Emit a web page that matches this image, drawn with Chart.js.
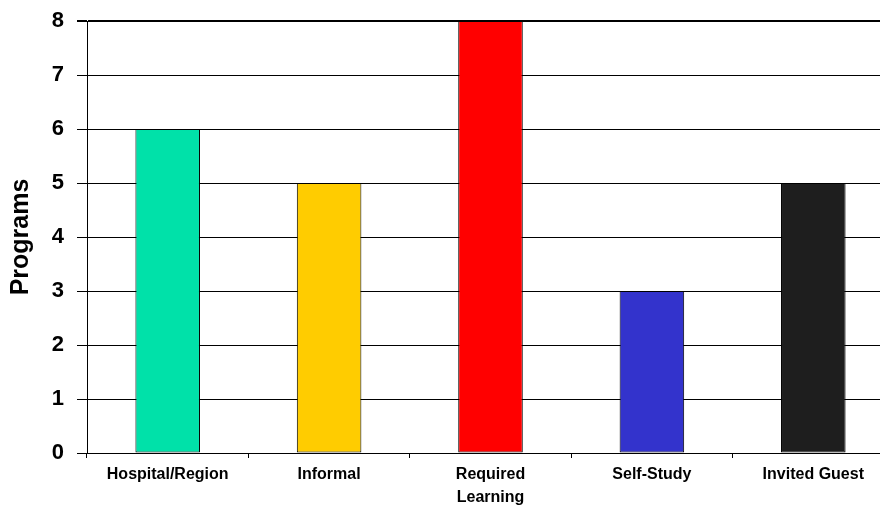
<!DOCTYPE html>
<html>
<head>
<meta charset="utf-8">
<script src="https://cdn.jsdelivr.net/npm/chart.js@4"></script>
<style>
  html, body { margin: 0; padding: 0; background: #fff; overflow: hidden; }
  #wrap { width: 880px; height: 506px; overflow: hidden; }
</style>
</head>
<body>
<div id="wrap"><canvas id="myChart" width="900" height="506"></canvas></div>
<script>
const categories = ['Hospital/Region', 'Informal', ['Required', 'Learning'], 'Self-Study', 'Invited Guest'];
const programs = [6, 5, 8, 3, 5];
const barColors = ['#00E1A9', '#FFCC00', '#FF0000', '#3333CC', '#1E1E1E'];
const yMin = 0;
const yMax = 8;
const yStep = 1;

const ctx = document.getElementById('myChart').getContext('2d');
new Chart(ctx, {
    type: 'bar',
    data: {
        labels: categories,
        datasets: [
            {
                label: 'Programs',
                data: programs,
                backgroundColor: barColors,
                borderColor: '#000',
                borderWidth: 1,
                borderSkipped: false,
                barPercentage: 0.4,
                categoryPercentage: 1,
            },
        ],
    },
    options: {
        responsive: false,
        animation: false,
        devicePixelRatio: 1,
        layout: { padding: { top: 21, right: 6, left: 0, bottom: 0 } },
        plugins: { legend: { display: false }, tooltip: { enabled: false } },
        scales: {
            x: {
                grid: { drawOnChartArea: false, drawTicks: true, tickLength: 5, color: '#000', offset: true },
                border: { color: '#000', width: 1 },
                ticks: {
                    color: '#000',
                    padding: 5,
                    maxRotation: 0,
                    autoSkip: false,
                    font: { family: 'Liberation Sans, Arial, sans-serif', size: 16, weight: 'bold', lineHeight: 1.45 },
                },
                afterFit: function (scale) {
                    scale.height = 53;
                    scale.paddingLeft = 0;
                    scale.paddingRight = 0;
                },
            },
            y: {
                min: yMin,
                max: yMax,
                grid: {
                    color: '#000',
                    tickLength: 10,
                    lineWidth: function (c) { return c.tick && c.tick.value === yMax ? 2 : 1; },
                },
                border: { color: '#000', width: 1 },
                ticks: {
                    stepSize: yStep,
                    color: '#000',
                    padding: 13,
                    font: { family: 'Liberation Sans, Arial, sans-serif', size: 22, weight: 'bold' },
                },
                title: {
                    display: true,
                    text: 'Programs',
                    color: '#000',
                    padding: { top: 6, bottom: 0 },
                    font: { family: 'Liberation Sans, Arial, sans-serif', size: 25, weight: 'bold', lineHeight: 1.2 },
                },
                afterFit: function (scale) {
                    scale.width = 87;
                    scale.paddingTop = 0;
                    scale.paddingBottom = 0;
                },
            },
        },
    },
});
</script>
</body>
</html>
